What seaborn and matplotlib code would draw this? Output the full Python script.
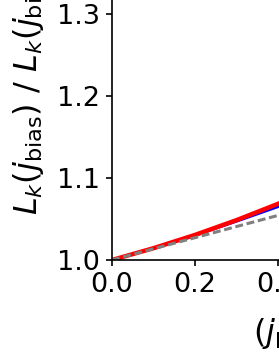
import matplotlib
matplotlib.use("Agg")
import matplotlib.pyplot as plt
from matplotlib.ticker import MultipleLocator
import numpy as np
import pandas as pd
import seaborn as sns

# ---------------------- data ----------------------
j_ratio = [0.0, 0.1, 0.2, 0.3, 0.42]
lk_red = [1.0, 1.0144, 1.0306, 1.0486, 1.0725]
lk_blue = [1.0, 1.0142, 1.0300, 1.0472, 1.0685]
lk_gray = [1.0, 1.0137, 1.0272, 1.0408, 1.0571]
# ------------------------------------------------------------------------

sns.set_style("ticks")
plt.rcParams['font.family'] = ['DejaVu Sans']
for key in ["text.color", "axes.labelcolor", "xtick.color", "ytick.color", "axes.edgecolor"]:
    plt.rcParams[key] = "black"

df = pd.DataFrame({"j": j_ratio, "red": lk_red, "blue": lk_blue, "gray": lk_gray})

fig = plt.figure(figsize=(2.79, 3.61), dpi=100)
# axes run off the right/top of the canvas, like the cropped reference
ax_h = 287.0
ax = fig.add_axes([112 / 279, 101 / 361, 415 / 279, ax_h / 361])

sns.lineplot(data=df, x="j", y="blue", color="blue", lw=2.0, ax=ax)
sns.lineplot(data=df, x="j", y="red", color="red", lw=3.2, ax=ax)
sns.lineplot(data=df, x="j", y="gray", color="gray", lw=2.2, ax=ax,
             linestyle=(0, (2.6, 1.2)))

ax.set_xlim(0, 1.0)
ax.set_ylim(1.0, 1.35)
ax.xaxis.set_major_locator(MultipleLocator(0.2))
ax.yaxis.set_major_locator(MultipleLocator(0.1))
ax.tick_params(labelsize=19.5, length=4.4, width=1.2, pad=4)
for s in ax.spines.values():
    s.set_linewidth(1.2)
sns.despine(ax=ax)

ax.set_ylabel(r"$L_k(j_{\rm bias})\ /\ L_k(j_{\rm bias}=0)$", fontsize=23, loc="bottom")
ax.yaxis.set_label_coords(-66 / 415, 45 / ax_h)
ax.set_xlabel(r"$(j_{\rm bias}/j_{\rm c})^2$", fontsize=23, loc="left")
ax.xaxis.set_label_coords(141 / 415, -52 / ax_h)

fig.savefig("out.png", dpi=100)
